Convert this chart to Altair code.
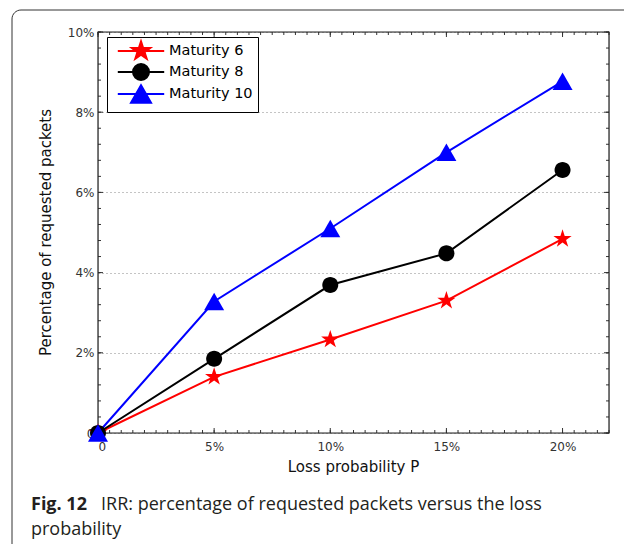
import altair as alt
import pandas as pd

# ---- data ----
loss_p = [0, 5, 10, 15, 20]
maturity_6 = [0, 1.40, 2.33, 3.30, 4.84]
maturity_8 = [0, 1.85, 3.69, 4.48, 6.56]
maturity_10 = [0, 3.28, 5.10, 7.00, 8.77]
series_names = ["Maturity 6", "Maturity 8", "Maturity 10"]
series_colors = ["#ff0000", "#000000", "#0000ff"]

x_major = [0, 5, 10, 15, 20]
y_major = [0, 2, 4, 6, 8, 10]
x_minor = [i * 0.5 for i in range(45)]
y_minor = [i * 0.4 for i in range(26)]

rows = []
for name, vals in zip(series_names, [maturity_6, maturity_8, maturity_10]):
    for p, v in zip(loss_p, vals):
        rows.append({"p": p, "v": v, "series": name})
df = pd.DataFrame(rows)

W, H = 511, 401
AXF = "DejaVu Sans"

star = "M0,-1.2L0.27,-0.37L1.14,-0.37L0.44,0.14L0.71,0.97L0,0.46L-0.71,0.97L-0.44,0.14L-1.14,-0.37L-0.27,-0.37Z"
circ = "M1,0A1,1,0,1,1,-1,0A1,1,0,1,1,1,0Z"
tri = "M0,-1.1L1.25,1.1L-1.25,1.1Z"
marker_paths = [star, circ, tri]
legend_paths = ["M-2.9,0H2.9" + p for p in marker_paths]

xs = alt.Scale(domain=[0, 22], nice=False, zero=False)
ys = alt.Scale(domain=[0, 10], nice=False, zero=False)
cscale = alt.Scale(domain=series_names, range=series_colors)

X_AX = alt.Axis(
    values=x_major, grid=False, tickSize=0, domain=False,
    labelExpr="datum.value == 0 ? '0' : datum.value + '%'",
    labelFont=AXF, labelFontSize=12, labelColor="#333333",
    labelPadding=8, title="Loss probability P", titleFont=AXF,
    titleFontSize=15, titleFontWeight="normal", titleColor="#111111",
    titleX=255, titleY=33, titleBaseline="middle")
Y_AX = alt.Axis(
    values=y_major, grid=True, gridDash=[1, 3], gridColor="#888888",
    tickSize=0, domain=False,
    labelExpr="datum.value == 0 ? '0' : datum.value + '%'",
    labelFont=AXF, labelFontSize=12, labelColor="#333333",
    labelPadding=4, title="Percentage of requested packets",
    titleFont=AXF, titleFontSize=15, titleFontWeight="normal",
    titleColor="#111111", titleX=-53, titleY=200, titleBaseline="middle",
    titleAlign="center")

def X(field):
    return alt.X(field, scale=xs, axis=X_AX)

def Y(field):
    return alt.Y(field, scale=ys, axis=Y_AX)

base = alt.Chart(df)

def tick_layer(vals, channel, length):
    d = pd.DataFrame({"p": vals, "v": vals})
    c = alt.Chart(d).mark_rule(color="#333333", strokeWidth=1)
    if channel == "x":
        b = c.encode(x=X("p:Q"), y=alt.value(H), y2=alt.value(H - length))
        t = c.encode(x=X("p:Q"), y=alt.value(0), y2=alt.value(length))
    else:
        b = c.encode(y=Y("v:Q"), x=alt.value(0), x2=alt.value(length))
        t = c.encode(y=Y("v:Q"), x=alt.value(W), x2=alt.value(W - length))
    return [b, t]

ticks = (tick_layer(x_minor, "x", 3) + tick_layer(x_major, "x", 5)
         + tick_layer(y_minor, "y", 3) + tick_layer(y_major, "y", 5))

one = pd.DataFrame({"a": [0]})
frame = alt.Chart(one).mark_rect(fillOpacity=0, stroke="#222222", strokeWidth=1.2).encode(
    x=alt.value(0), x2=alt.value(W), y=alt.value(0), y2=alt.value(H))

outer = alt.Chart(one).mark_rect(fillOpacity=0, stroke="#333333", strokeWidth=1, cornerRadius=9).encode(
    x=alt.value(-86), x2=alt.value(580), y=alt.value(-22), y2=alt.value(560))

lines = base.mark_line(strokeWidth=2).encode(
    x=X("p:Q"), y=Y("v:Q"),
    color=alt.Color("series:N", scale=cscale, legend=None))

points = base.mark_point(filled=True, size=256, strokeWidth=1, opacity=1).encode(
    x=X("p:Q"), y=Y("v:Q"),
    color=alt.Color("series:N", scale=cscale, legend=None),
    shape=alt.Shape("series:N", scale=alt.Scale(domain=series_names, range=marker_paths), legend=None))

leg = alt.Legend(orient="none", legendX=9, legendY=5, title=None, strokeColor="#000000",
                 fillColor="#ffffff", padding=5, labelFont=AXF, labelFontSize=14.5,
                 labelColor="#000000", symbolSize=256, symbolStrokeWidth=2,
                 symbolOffset=20, labelOffset=19, rowPadding=-3, cornerRadius=0)

legend_layer = base.transform_filter("false").mark_point(filled=True, size=256, opacity=1).encode(
    x=X("p:Q"), y=Y("v:Q"),
    color=alt.Color("series:N", scale=alt.Scale(domain=series_names, range=series_colors), legend=leg),
    stroke=alt.Stroke("series:N", scale=alt.Scale(domain=series_names, range=series_colors), legend=leg),
    shape=alt.Shape("series:N", scale=alt.Scale(domain=series_names, range=legend_paths), legend=leg))

cap_font = "Open Sans"
cap1 = alt.Chart(one).mark_text(text="Fig. 12", font=cap_font, fontSize=18, fontWeight="bold",
                                align="left", baseline="middle", color="#231f20").encode(
    x=alt.value(-67), y=alt.value(473))
cap2 = alt.Chart(one).mark_text(text="IRR: percentage of requested packets versus the loss",
                                font=cap_font, fontSize=18, align="left", baseline="middle",
                                color="#231f20").encode(x=alt.value(3), y=alt.value(473))
cap3 = alt.Chart(one).mark_text(text="probability", font=cap_font, fontSize=18, align="left",
                                baseline="middle", color="#231f20").encode(
    x=alt.value(-67), y=alt.value(498))

chart = alt.layer(
    outer, *ticks, frame, lines, points, legend_layer, cap1, cap2, cap3
).resolve_scale(color="independent", shape="independent", stroke="independent").properties(
    width=W, height=H, autosize="none",
    padding={"left": 90, "top": 24, "right": 15, "bottom": 111},
).configure_view(stroke=None).configure(background="white")

chart.save("out.html", embed_options={"renderer": "svg", "actions": False})
